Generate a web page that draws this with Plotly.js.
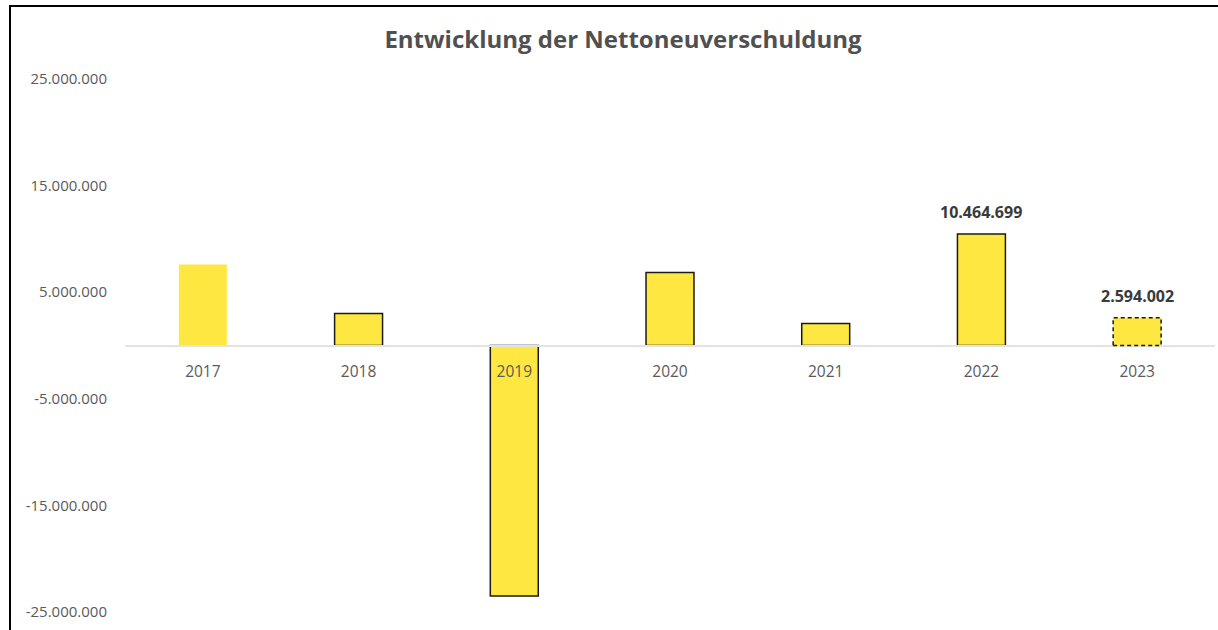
<!DOCTYPE html>
<html>
<head>
<meta charset="utf-8">
<script src="https://cdn.plot.ly/plotly-3.0.1.min.js"></script>
<style>
  html, body { margin: 0; padding: 0; background: #fff; }
  #frameTop { position: absolute; left: 9px; top: 5px; width: 1209px; height: 2px; background: #000; }
  #frameLeft { position: absolute; left: 9px; top: 5px; width: 2px; height: 625px; background: #000; }
  #chart { position: absolute; left: 0; top: 0; width: 1218px; height: 630px; }
</style>
</head>
<body>
<div id="frameTop"></div>
<div id="frameLeft"></div>
<div id="chart"></div>
<script>
// Data
const years = ['2017', '2018', '2019', '2020', '2021', '2022', '2023'];
const values = [7600000, 3000000, -23500000, 6850000, 2070000, 10464699, 2594002];
const showLabel = [false, false, false, false, false, true, true];
const yTickValues = [-25000000, -15000000, -5000000, 5000000, 15000000, 25000000];

function fmtDE(v) {
  const s = Math.round(Math.abs(v)).toString().replace(/\B(?=(\d{3})+(?!\d))/g, '.');
  return (v < 0 ? '-' : '') + s;
}

const barColor = '#FFE741';
const lineWidths = years.map((y, i) => (i === 0 || i === years.length - 1) ? 0 : 1.5);
const halfW = 0.154;
const lastIdx = years.length - 1;

const trace = {
  type: 'bar',
  x: years,
  y: values,
  marker: { color: barColor, line: { color: '#1a1a1a', width: lineWidths } },
  hoverinfo: 'x+y'
};

const labelNotes = [];
years.forEach((y, i) => {
  if (showLabel[i]) {
    labelNotes.push({
      x: i, y: values[i], xref: 'x', yref: 'y',
      text: '<b>' + fmtDE(values[i]) + '</b>',
      showarrow: false, xanchor: 'center', yanchor: 'bottom', yshift: 9,
      font: { family: 'Open Sans, sans-serif', size: 16, color: '#3a3a3a' }
    });
  }
});

const layout = {
  width: 1218, height: 630,
  margin: { l: 125, r: 3, t: 79, b: 18 },
  paper_bgcolor: 'rgba(0,0,0,0)',
  plot_bgcolor: 'rgba(0,0,0,0)',
  showlegend: false,
  bargap: 0.692,
  title: {
    text: '<b>Entwicklung der Nettoneuverschuldung</b>',
    font: { family: 'Open Sans, sans-serif', size: 24, color: '#505050' },
    xref: 'container', x: 623 / 1218, xanchor: 'center',
    yref: 'container', y: 1 - 40 / 630, yanchor: 'middle'
  },
  xaxis: {
    type: 'category',
    anchor: 'free', position: 0.5,
    showline: true, linecolor: '#e3e3e3', linewidth: 2,
    showgrid: false, zeroline: false,
    ticks: 'outside', ticklen: 12, tickcolor: 'rgba(0,0,0,0)',
    tickfont: { family: 'Open Sans, sans-serif', size: 15.5, color: '#5a5a5a' },
    range: [-0.5, years.length - 0.5]
  },
  yaxis: {
    range: [-25000000, 25000000],
    showgrid: false, zeroline: false, showline: false,
    tickvals: yTickValues,
    ticktext: yTickValues.map(fmtDE),
    ticks: 'outside', ticklen: 14, tickcolor: 'rgba(0,0,0,0)',
    tickfont: { family: 'Open Sans, sans-serif', size: 15, color: '#5a5a5a' }
  },
  annotations: labelNotes,
  shapes: [{
    type: 'rect', xref: 'x', yref: 'y',
    x0: lastIdx - halfW, x1: lastIdx + halfW,
    y0: 0, y1: values[lastIdx],
    line: { color: '#1a1a1a', width: 1.5, dash: '4px,3px' },
    fillcolor: 'rgba(0,0,0,0)', layer: 'above'
  }]
};

Plotly.newPlot('chart', [trace], layout, { displayModeBar: false, staticPlot: true });
</script>
</body>
</html>
